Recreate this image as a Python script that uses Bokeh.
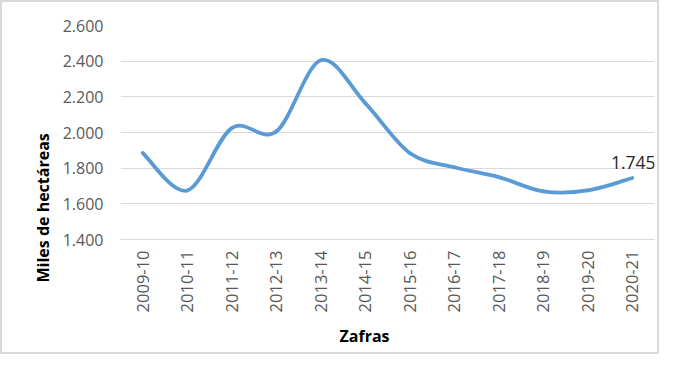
import math
import numpy as np
from bokeh.plotting import figure
from bokeh.models import Range1d, FixedTicker, Title
from bokeh.core.properties import value
from bokeh.embed import file_html
from bokeh.resources import INLINE

# ---- data ----
zafras = ["2009-10", "2010-11", "2011-12", "2012-13", "2013-14", "2014-15",
          "2015-16", "2016-17", "2017-18", "2018-19", "2019-20", "2020-21"]
miles_ha = [1885, 1675, 2025, 2005, 2405, 2165, 1885, 1805, 1750, 1670, 1675, 1745]
y_ticks = [1400, 1600, 1800, 2000, 2200, 2400, 2600]
y_tick_labels = ["1.400", "1.600", "1.800", "2.000", "2.200", "2.400", "2.600"]

FONT = "Open Sans"
W, H = 659, 354

p = figure(width=W, height=H, output_backend="svg", toolbar_location=None,
           x_range=Range1d(0, len(zafras)), y_range=Range1d(y_ticks[0], y_ticks[-1]),
           min_border_left=118, min_border_right=7, min_border_top=23, min_border_bottom=117)
p.styles = {"border": "2px solid #d9d9d9", "box-sizing": "border-box"}
p.outline_line_color = None
p.background_fill_color = "white"
p.border_fill_color = "white"

# smooth line (Excel-like cubic Bezier through the points)
xs = np.arange(len(zafras)) + 0.5
ys = np.array(miles_ha, dtype=float)
n = len(xs)
x0, y0, x1, y1, cx0, cy0, cx1, cy1 = [], [], [], [], [], [], [], []
for i in range(n - 1):
    xm, ym = (xs[i - 1], ys[i - 1]) if i > 0 else (xs[i], ys[i])
    xp, yp = (xs[i + 2], ys[i + 2]) if i + 2 < n else (xs[i + 1], ys[i + 1])
    x0.append(xs[i]); y0.append(ys[i]); x1.append(xs[i + 1]); y1.append(ys[i + 1])
    cx0.append(xs[i] + (xs[i + 1] - xm) / 6); cy0.append(ys[i] + (ys[i + 1] - ym) / 6)
    cx1.append(xs[i + 1] - (xp - xs[i]) / 6); cy1.append(ys[i + 1] - (yp - ys[i]) / 6)
p.bezier(x0=x0, y0=y0, x1=x1, y1=y1, cx0=cx0, cy0=cy0, cx1=cx1, cy1=cy1,
         line_color="#5b9bd5", line_width=3.8, line_cap="round")

# value label on last point
last = miles_ha[-1]
p.text(x=[xs[-1]], y=[last], text=[f"{last:,}".replace(",", ".")],
       text_font=value(FONT), text_font_size="17.5px", text_color="#262626",
       text_align="center", text_baseline="bottom", x_offset=1, y_offset=-9)

# axes
p.xgrid.grid_line_color = None
p.ygrid.grid_line_color = "#d9d9d9"
p.ygrid.grid_line_width = 1

p.xaxis.ticker = FixedTicker(ticks=list(xs))
p.xaxis.major_label_overrides = {float(x): z for x, z in zip(xs, zafras)}
p.xaxis.major_label_orientation = math.pi / 2
p.xaxis.axis_line_color = "#d9d9d9"
p.xaxis.major_tick_line_color = None
p.xaxis.minor_tick_line_color = None
p.xaxis.major_tick_out = 0
p.xaxis.major_label_standoff = 11
p.xaxis.major_label_text_font = FONT
p.xaxis.major_label_text_font_size = "16.5px"
p.xaxis.major_label_text_color = "#595959"

p.yaxis.ticker = FixedTicker(ticks=y_ticks)
p.yaxis.major_label_overrides = {t: l for t, l in zip(y_ticks, y_tick_labels)}
p.yaxis.axis_line_color = None
p.yaxis.major_tick_line_color = None
p.yaxis.minor_tick_line_color = None
p.yaxis.major_tick_out = 0
p.yaxis.major_label_standoff = 17
p.yaxis.major_label_text_font = FONT
p.yaxis.major_label_text_font_size = "16px"
p.yaxis.major_label_text_color = "#595959"

ytitle = Title(text="Miles de hectáreas", align="left", offset=-43, standoff=11,
               text_font=FONT, text_font_size="16px", text_font_style="bold",
               text_color="black")
p.add_layout(ytitle, "left")
xtitle = Title(text="Zafras", align="left", offset=219, standoff=14,
               text_font=FONT, text_font_size="16px", text_font_style="bold",
               text_color="black")
p.add_layout(xtitle, "below")

open("out.html", "w").write(file_html(p, INLINE))
